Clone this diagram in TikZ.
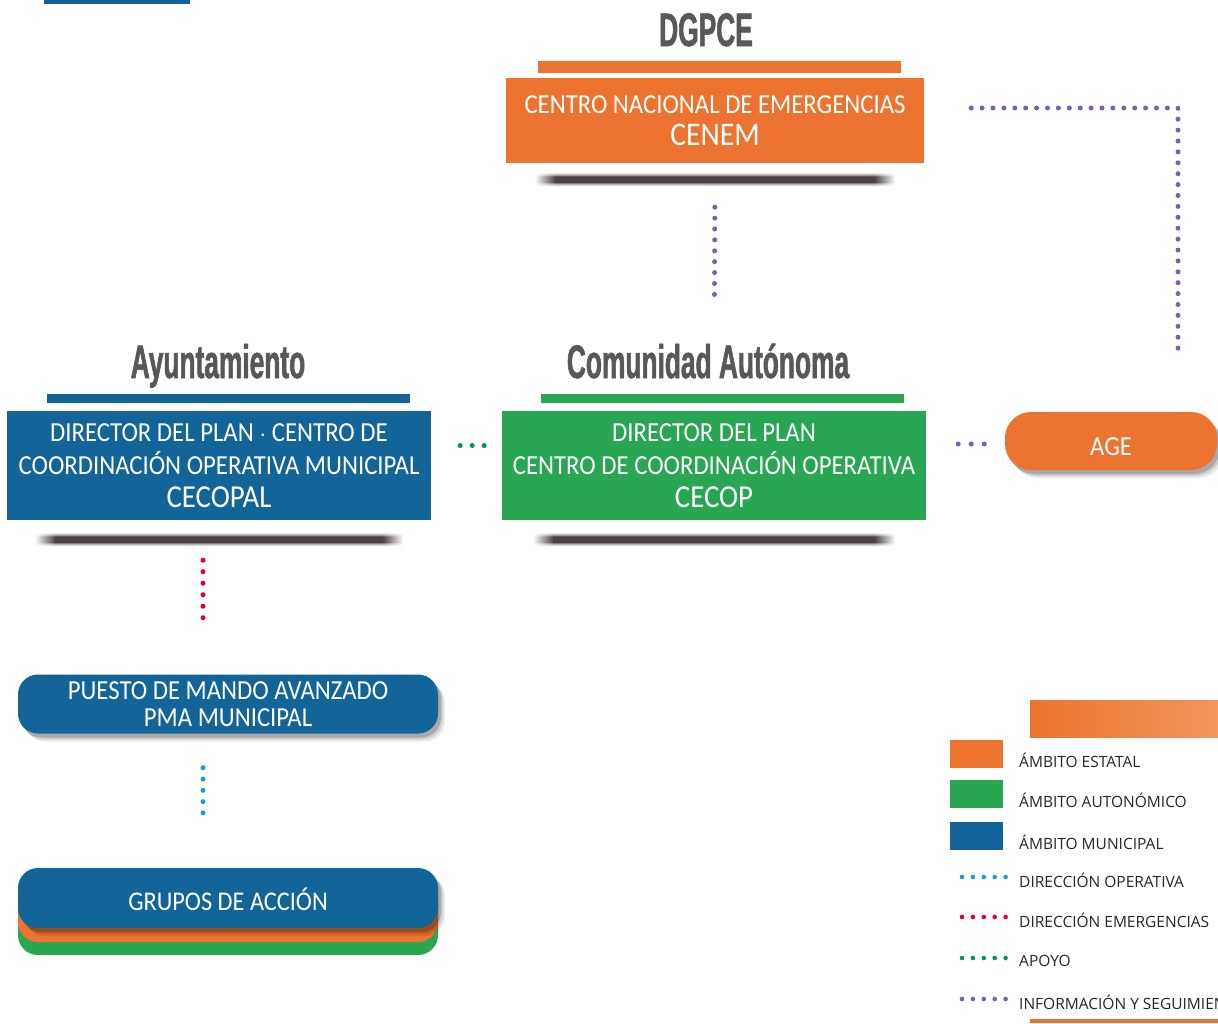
\documentclass[tikz,border=0pt]{standalone}
\usepackage{fontspec}
\setmainfont[FakeStretch=0.9]{Carlito}
\newfontfamily\titlefont[FakeStretch=0.56,FakeBold=1.2]{Liberation Sans}
\newfontfamily\legendfont{Open Sans}
\usetikzlibrary{shadows,fadings}

\definecolor{estatal}{RGB}{236,116,48}
\definecolor{autonomico}{RGB}{40,166,82}
\definecolor{municipal}{RGB}{18,100,153}
\definecolor{titlegrey}{RGB}{88,88,88}
\definecolor{infocol}{RGB}{123,95,168}
\definecolor{emergcol}{RGB}{226,0,40}
\definecolor{opercol}{RGB}{20,160,210}
\definecolor{apoyocol}{RGB}{0,150,90}
\definecolor{ribbon}{RGB}{78,66,66}

\pgfdeclareverticalshading{ribbonshade}{100bp}{color(0bp)=(white); color(25bp)=(white);
    color(34bp)=(ribbon!45!white); color(40bp)=(ribbon); color(60bp)=(ribbon);
    color(66bp)=(ribbon!45!white); color(75bp)=(white); color(100bp)=(white)}

\newcommand\boxribbon[2]{% coordinate, half width
    \shade[shading=ribbonshade]
        ([xshift=-#2+20, yshift=7]#1) rectangle ([xshift=#2-20, yshift=-7]#1);
    \shade[shading=ribbonshade, path fading=west]
        ([xshift=-#2, yshift=7]#1) rectangle ([xshift=-#2+20.5, yshift=-7]#1);
    \shade[shading=ribbonshade, path fading=east]
        ([xshift=#2-20.5, yshift=7]#1) rectangle ([xshift=#2, yshift=-7]#1);
}

\begin{document}
\begin{tikzpicture}[x=1pt,y=-1pt]
    \tikzset{
        title/.style = {font=\titlefont\bfseries\fontsize{47}{47}\selectfont,
            text=titlegrey, anchor=base, inner sep=0pt},
        titlebar/.style = {fill=#1, minimum width=363pt, inner sep=0pt},
        box/.style = {fill=#1, text=white, align=center, inner sep=0pt,
            font=\fontsize{27.5}{33}\selectfont},
        roundbox/.style = {box=#1, rounded corners=20pt,
            drop shadow={shadow xshift=7pt, shadow yshift=-8pt, opacity=.08, fill=black},
            drop shadow={shadow xshift=5pt, shadow yshift=-6pt, opacity=.12, fill=black},
            drop shadow={shadow xshift=3pt, shadow yshift=-4pt, opacity=.18, fill=black}},
        dotline/.style = {line width=5pt, line cap=round,
            dash pattern=on 0pt off #1},
        dotline/.default = 10.9pt,
        legtext/.style = {font=\legendfont\fontsize{15.5}{15.5}\selectfont,
            text=black!85, anchor=west, inner sep=0pt}
    }
    \useasboundingbox (0,0) rectangle (1218,1023);
    \clip (0,0) rectangle (1218,1023);

    % piece of bar at the top
    \fill[municipal] (44,0) rectangle (190,3.5);

    % estatal
    \node[title] (dgpce) at (706,46) {DGPCE};
    \node[titlebar=estatal, minimum height=12pt] (dgpcebar) at (719.5,67) {};
    \node[box=estatal, minimum width=418pt, minimum height=85pt] (cenem) at (715,120.5)
        {CENTRO NACIONAL DE EMERGENCIAS\\[-1pt]{\fontsize{33}{32}\selectfont CENEM}};
    \coordinate (cenemrib) at ([yshift=-16]cenem.south);
    \boxribbon{cenemrib}{180}

    % municipal
    \node[title] (ayto) at (218,378) {Ayuntamiento};
    \node[titlebar=municipal, minimum height=9pt] (aytobar) at (228.5,398.5) {};
    \node[box=municipal, minimum width=424pt, minimum height=109pt] (cecopal) at (219,465.5)
        {DIRECTOR DEL PLAN $\cdot$ CENTRO DE\\COORDINACIÓN OPERATIVA MUNICIPAL\\
        {\fontsize{32}{33}\selectfont CECOPAL}};
    \coordinate (cecopalrib) at ([yshift=-19]cecopal.south);
    \boxribbon{cecopalrib}{184}

    % autonomico
    \node[title] (ccaa) at (708,378) {Comunidad Autónoma};
    \node[titlebar=autonomico, minimum height=9pt] (ccaabar) at (722.5,398.5) {};
    \node[box=autonomico, minimum width=424pt, minimum height=109pt] (cecop) at (714,465.5)
        {DIRECTOR DEL PLAN\\CENTRO DE COORDINACIÓN OPERATIVA\\
        {\fontsize{32}{33}\selectfont CECOP}};
    \coordinate (ceceoprib) at ([yshift=-19]cecop.south);
    \boxribbon{ceceoprib}{181}

    \node[roundbox=estatal, rounded corners=26pt, minimum width=212pt,
        minimum height=58pt, text height=28pt, text depth=0pt] (age) at (1111,441) {AGE};

    % puesto de mando y grupos
    \node[roundbox=municipal, minimum width=420pt, minimum height=59pt,
        font=\fontsize{27.5}{27}\selectfont] (pma) at (228,704)
        {PUESTO DE MANDO AVANZADO\\PMA MUNICIPAL};
    \fill[autonomico, rounded corners=20pt] (18,880) rectangle (438,955);
    \fill[estatal, rounded corners=20pt] (18,874) rectangle (438,942);
    \node[roundbox=municipal, minimum width=420pt, minimum height=60pt,
        font=\fontsize{27}{27}\selectfont, text height=25pt, text depth=0pt]
        (grupos) at (228,898) {GRUPOS DE ACCIÓN};

    % conexiones
    \coordinate (infoend) at (1178,351);
    \draw[dotline, infocol, shorten <=44pt, shorten >=116pt] (cenem.south) -- (cecop.north);
    \draw[dotline, infocol, shorten <=47pt] ([yshift=12.5]cenem.east) -| (infoend);
    \draw[dotline=12pt, apoyocol, shorten <=29pt, shorten >=16pt]
        ([yshift=20]cecopal.east) -- ([yshift=20]cecop.west);
    \draw[dotline=13pt, infocol, shorten <=32pt, shorten >=19pt]
        ([yshift=-3]cecop.east |- age.west) -- ([yshift=-3]age.west);
    \draw[dotline=11.5pt, emergcol, shorten <=40pt, shorten >=54pt]
        ([xshift=-16]cecopal.south) -- ([xshift=-16]cecopal.south |- pma.north);
    \draw[dotline=11.3pt, opercol, shorten <=34pt, shorten >=46pt]
        ([xshift=-25]pma.south) -- ([xshift=-25]pma.south |- grupos.north);

    % leyenda
    \shade[left color=estatal, right color={rgb,255:red,241;green,150;blue,92}]
        (1030,700) rectangle (1218,737);
    \foreach \col/\ypos/\txt in {estatal/754/ÁMBITO ESTATAL,
            autonomico/794/ÁMBITO AUTONÓMICO, municipal/836/ÁMBITO MUNICIPAL} {
        \fill[\col] (950,\ypos-14) rectangle (1003,\ypos+14);
        \node[legtext] at (1019,\ypos+6) {\txt};
    }
    \foreach \col/\ypos/\txt in {opercol/877/DIRECCIÓN OPERATIVA,
            emergcol/917/DIRECCIÓN EMERGENCIAS, apoyocol/958/APOYO,
            infocol/999/INFORMACIÓN Y SEGUIMIENTO} {
        \draw[dotline, \col, line width=4.6pt] (962,\ypos) -- (1006,\ypos);
        \node[legtext] at (1019,\ypos+3) {\txt};
    }
    \fill[estatal] (1030,1019) rectangle (1218,1023);
\end{tikzpicture}
\end{document}
